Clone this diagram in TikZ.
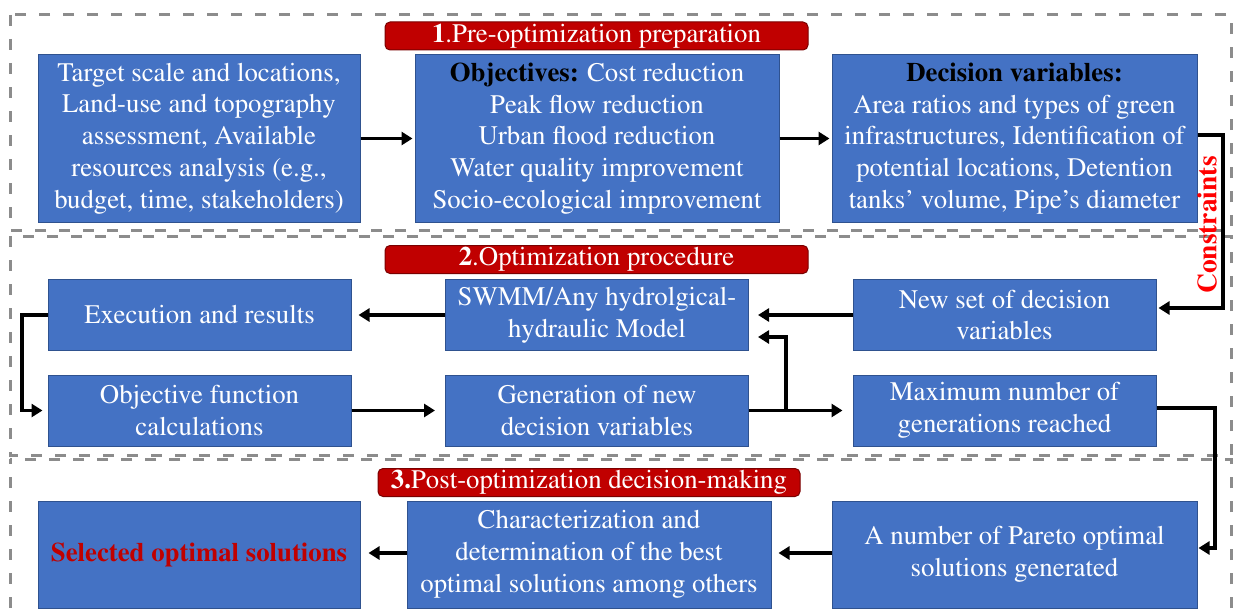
\documentclass[tikz,border=0pt]{standalone}
\usepackage[T1]{fontenc}
\usepackage{times}
\usetikzlibrary{arrows.meta,calc}
\definecolor{boxblue}{HTML}{4472C4}
\definecolor{boxedge}{HTML}{2F528F}
\definecolor{titlered}{HTML}{C00000}
\definecolor{titleedge}{HTML}{7A0000}
\definecolor{selred}{HTML}{C00000}
\definecolor{conred}{HTML}{FF0000}
\definecolor{framegray}{HTML}{8C8C8C}
\tikzset{
  x=1pt,y=-1pt,
  bbox/.style={draw=boxedge,line width=1pt,fill=boxblue,text=white,align=center,inner sep=0pt,
    font=\rmfamily\fontsize{26.8}{31.7}\selectfont},
  titlebox/.style={draw=titleedge,line width=1pt,fill=titlered,text=white,rounded corners=5pt,inner sep=0pt,
    minimum width=423pt,minimum height=28pt,font=\rmfamily\fontsize{26.8}{28}\selectfont},
  frame/.style={draw=framegray,line width=3pt,dash pattern=on 11pt off 13pt},
  arr/.style={line width=3.5pt,-{Triangle[length=11pt,width=13pt]}},
}
\begin{document}
\begin{tikzpicture}
\useasboundingbox (0,0) rectangle (1233,610);
% frames
\draw[frame] (10,15) rectangle (1231,230);
\draw[frame] (10,236) rectangle (1231,455);
\draw[frame,dash phase=6pt] (10,459) rectangle (1231,640);
% titles
\node[titlebox] (t1) at (596.5,36) {\textbf{1}.Pre-optimization preparation};
\node[titlebox] (t2) at (596.5,259.5) {\textbf{2}.Optimization procedure};
\node[titlebox,minimum width=422pt] (t3) at (589,482.5) {\textbf{3.}Post-optimization decision-making};
% row 1
\node[bbox,minimum width=322pt,minimum height=167pt] (A) at (199,138.5)
  {Target scale and locations,\\Land-use and topography\\assessment, Available\\resources analysis (e.g.,\\budget, time, stakeholders)};
\node[bbox,minimum width=364pt,minimum height=167pt] (B) at (597,138.5)
  {\textcolor{black}{\textbf{Objectives:}} Cost reduction\\Peak flow reduction\\Urban flood reduction\\Water quality improvement\\Socio-ecological improvement};
\node[bbox,minimum width=365pt,minimum height=167pt] (C) at (1014.5,138.5)
  {\textcolor{black}{\textbf{Decision variables:}}\\Area ratios and types of green\\infrastructures, Identification of\\potential locations, Detention\\tanks' volume, Pipe's diameter};
% row 2
\node[bbox,minimum width=303pt,minimum height=71pt] (D) at (199.5,315) {Execution and results};
\node[bbox,minimum width=303pt,minimum height=71pt] (E) at (597,315) {SWMM/Any hydrolgical-\\hydraulic Model};
\node[bbox,minimum width=303pt,minimum height=71pt] (F) at (1004.5,315) {New set of decision\\variables};
% row 3
\node[bbox,minimum width=303pt,minimum height=71pt] (G) at (199.5,410.5) {Objective function\\calculations};
\node[bbox,minimum width=303pt,minimum height=71pt] (H) at (597,410.5) {Generation of new\\decision variables};
\node[bbox,minimum width=303pt,minimum height=71pt] (I) at (1004.5,410.5) {Maximum number of\\generations reached};
% row 4
\node[bbox,minimum width=322pt,minimum height=107pt] (J) at (199,554.5)
  {\textcolor{selred}{\textbf{Selected optimal solutions}}};
\node[bbox,minimum width=364pt,minimum height=107pt] (K) at (589,554.5)
  {Characterization and\\determination of the best\\optimal solutions among others};
\node[bbox,minimum width=365pt,minimum height=107pt] (L) at (1014.5,554.5)
  {A number of Pareto optimal\\solutions generated};
% constraints label
\node[rotate=90,text=conred,font=\rmfamily\fontsize{27.5}{30}\selectfont\bfseries,inner sep=0pt] (cons) at (1207,225) {Constraints};
% connectors
\draw[arr,shorten >=2pt] (A.east) -- (B.west);
\draw[arr,shorten >=2pt] (B.east) -- (C.west);
\coordinate (c1) at (1223,135);
\draw[arr,shorten >=2pt] (C.east |- c1) -- (c1) |- ([yshift=7pt]F.east);
\draw[arr,shorten >=9pt] (F.west) -- (E.east);
\draw[arr,shorten >=7pt] (E.west) -- (D.east);
\coordinate (d1) at (22,315);
\draw[arr,shorten >=5pt] (D.west) -- (d1) |- (G.west);
\draw[arr,shorten >=10pt] (G.east) -- (H.west);
\draw[arr,shorten >=10pt] (H.east) -- (I.west);
\coordinate (hb) at (786,410.5);
\draw[arr,shorten >=9pt] (hb) |- ([yshift=-22pt]E.east);
\coordinate (i1) at (1215,408);
\draw[arr,shorten >=1pt] (I.east |- i1) -- (i1) |- ([yshift=6.5pt]L.east);
\draw[arr,shorten >=7pt] ([yshift=1.5pt]L.west) -- ([yshift=1.5pt]K.east);
\draw[arr,shorten >=8pt] ([yshift=1.5pt]K.west) -- ([yshift=1.5pt]J.east);
\end{tikzpicture}
\end{document}
